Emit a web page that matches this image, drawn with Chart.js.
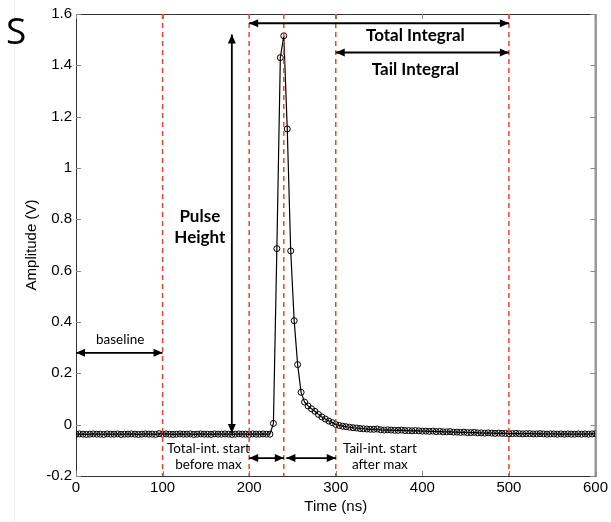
<!DOCTYPE html>
<html><head><meta charset="utf-8">
<script src="https://cdn.jsdelivr.net/npm/chart.js@4/dist/chart.umd.min.js"></script>
<style>html,body{margin:0;padding:0;background:#fff}#wrap{width:611px;height:522px;position:relative}</style>
</head><body><div id="wrap"><canvas id="c" width="611" height="522"></canvas></div>
<script>
const timeNs = [
0,4,8,12,16,20,24,28,32,36,40,44,48,52,56,60,64,68,72,76,80,84,88,92,96,100,
104,108,112,116,120,124,128,132,136,140,144,148,152,156,160,164,168,172,176,180,184,188,192,196,200,
204,208,212,216,220,224,228,232,236,240,244,248,252,256,260,264,268,272,276,280,284,288,292,296,300,
304,308,312,316,320,324,328,332,336,340,344,348,352,356,360,364,368,372,376,380,384,388,392,396,400,
404,408,412,416,420,424,428,432,436,440,444,448,452,456,460,464,468,472,476,480,484,488,492,496,500,
504,508,512,516,520,524,528,532,536,540,544,548,552,556,560,564,568,572,576,580,584,588,592,596,600];
const amplitudeV = [
-0.037,-0.036,-0.037,-0.038,-0.037,-0.036,-0.037,-0.037,-0.038,-0.036,
-0.037,-0.037,-0.036,-0.038,-0.037,-0.037,-0.036,-0.037,-0.038,-0.037,
-0.036,-0.037,-0.037,-0.038,-0.035,-0.037,-0.036,-0.037,-0.038,-0.037,
-0.036,-0.037,-0.037,-0.036,-0.038,-0.037,-0.036,-0.037,-0.037,-0.038,
-0.036,-0.037,-0.037,-0.036,-0.037,-0.038,-0.037,-0.036,-0.037,-0.037,
-0.038,-0.036,-0.037,-0.037,-0.036,-0.037,-0.037,
0.005,0.686,1.43,1.515,1.152,0.677,0.405,0.234,0.126,0.088,0.073,0.062,0.052,0.040,0.030,0.022,0.014,0.008,0.001,
-0.003,-0.006,-0.008,-0.010,-0.012,-0.013,-0.015,-0.016,-0.017,-0.018,-0.018,-0.017,-0.020,-0.021,-0.020,-0.021,-0.022,-0.022,-0.021,-0.023,-0.023,-0.024,-0.023,-0.024,-0.025,
-0.025,-0.026,-0.025,-0.027,-0.026,-0.028,-0.028,-0.027,-0.029,-0.029,-0.030,-0.029,-0.031,-0.031,-0.030,-0.032,-0.032,-0.033,-0.032,-0.033,-0.034,-0.033,-0.034,-0.034,-0.035,
-0.035,-0.034,-0.035,-0.036,-0.035,-0.035,-0.036,-0.036,-0.035,-0.036,-0.037,-0.036,-0.036,-0.037,-0.036,-0.037,-0.036,-0.037,-0.037,-0.036,-0.037,-0.036,-0.037,-0.036,-0.035];
const xTickValues = [0,100,200,300,400,500,600];
const yTickValues = [-0.2,0,0.2,0.4,0.6,0.8,1,1.2,1.4,1.6];
const markerTimes = [100,200,240,300,500];

const RED = '#ff3c28';
const annoFont = '"Lato","Open Sans",sans-serif';

function arrow(ctx, x1, y1, x2, y2) {
  const L = 9, W = 4;
  const ang = Math.atan2(y2 - y1, x2 - x1);
  ctx.beginPath(); ctx.moveTo(x1, y1); ctx.lineTo(x2, y2); ctx.stroke();
  [[x2, y2, ang], [x1, y1, ang + Math.PI]].forEach(([x, y, a]) => {
    ctx.beginPath();
    ctx.moveTo(x, y);
    ctx.lineTo(x - L * Math.cos(a) - W * Math.sin(a), y - L * Math.sin(a) + W * Math.cos(a));
    ctx.lineTo(x - L * Math.cos(a) + W * Math.sin(a), y - L * Math.sin(a) - W * Math.cos(a));
    ctx.closePath(); ctx.fill();
  });
}

const framePlugin = {
  id: 'frame',
  beforeDatasetsDraw(chart) {
    const {ctx, chartArea: a, scales: {x, y}} = chart;
    ctx.save();
    ctx.strokeStyle = '#f0f0f0'; ctx.lineWidth = 1;
    ctx.beginPath(); ctx.moveTo(14.5, 0); ctx.lineTo(14.5, 522); ctx.stroke();
    ctx.strokeStyle = '#333'; ctx.lineWidth = 1;
    ctx.strokeRect(a.left + 0.5, a.top + 0.5, a.right - a.left, a.bottom - a.top);
    ctx.strokeStyle = '#999'; ctx.lineWidth = 2;
    ctx.beginPath(); ctx.moveTo(a.right, a.top); ctx.lineTo(a.right, a.bottom); ctx.stroke();
    ctx.strokeStyle = '#888'; ctx.lineWidth = 1;
    xTickValues.forEach(v => {
      const px = Math.round(x.getPixelForValue(v)) + 0.5;
      ctx.beginPath(); ctx.moveTo(px, a.bottom); ctx.lineTo(px, a.bottom - 5);
      ctx.moveTo(px, a.top); ctx.lineTo(px, a.top + 5); ctx.stroke();
    });
    yTickValues.forEach(v => {
      const py = Math.round(y.getPixelForValue(v)) + 0.5;
      ctx.beginPath(); ctx.moveTo(a.left, py); ctx.lineTo(a.left + 5, py);
      ctx.moveTo(a.right, py); ctx.lineTo(a.right - 5, py); ctx.stroke();
    });
    ctx.restore();
  },
  afterDatasetsDraw(chart) {
    const {ctx, chartArea: a, scales: {x, y}} = chart;
    ctx.save();
    ctx.strokeStyle = RED; ctx.lineWidth = 1.5; ctx.setLineDash([5, 4]);
    markerTimes.forEach(t => {
      const px = x.getPixelForValue(t);
      ctx.beginPath(); ctx.moveTo(px, a.top); ctx.lineTo(px, a.bottom); ctx.stroke();
    });
    ctx.setLineDash([]);
    ctx.strokeStyle = '#000'; ctx.fillStyle = '#000'; ctx.lineWidth = 1.8;
    const X = v => x.getPixelForValue(v), Y = v => y.getPixelForValue(v);
    arrow(ctx, X(200), Y(1.564), X(500), Y(1.564));
    arrow(ctx, X(300), Y(1.45), X(500), Y(1.45));
    arrow(ctx, X(180), Y(1.52), X(180), Y(-0.032));
    arrow(ctx, X(0), Y(0.28), X(100), Y(0.28));
    arrow(ctx, X(200), Y(-0.13), X(240), Y(-0.13));
    arrow(ctx, X(243), Y(-0.13), X(300), Y(-0.13));
    ctx.textAlign = 'center'; ctx.textBaseline = 'middle';
    ctx.font = 'bold 17px ' + annoFont;
    ctx.fillText('Total Integral', X(392), Y(1.517));
    ctx.fillText('Tail Integral', X(392), Y(1.383));
    ctx.fillText('Pulse', X(143), Y(0.81));
    ctx.fillText('Height', X(143), Y(0.73));
    ctx.font = '13.5px ' + annoFont;
    ctx.fillText('baseline', X(51), Y(0.33));
    ctx.fillText('Total-int. start', X(153), Y(-0.095));
    ctx.fillText('before max', X(153), Y(-0.155));
    ctx.fillText('Tail-int. start', X(351), Y(-0.095));
    ctx.fillText('after max', X(351), Y(-0.155));
    ctx.font = '37px "Open Sans", sans-serif';
    ctx.textAlign = 'left'; ctx.textBaseline = 'alphabetic';
    ctx.fillText('S', 6, 44);
    ctx.restore();
  }
};

const tickFont = {family: '"Liberation Sans", Arial, sans-serif', size: 15};
new Chart(document.getElementById('c'), {
  type: 'scatter',
  data: {
    datasets: [{
      data: timeNs.map((t, i) => ({x: t, y: amplitudeV[i]})),
      showLine: true,
      borderColor: '#000', borderWidth: 1.2,
      pointRadius: 3, pointBorderWidth: 1,
      pointBorderColor: '#000', pointBackgroundColor: 'rgba(0,0,0,0)',
      tension: 0
    }]
  },
  options: {
    responsive: false, animation: false,
    layout: {padding: {top: 14, right: 14, left: 0, bottom: 0}},
    plugins: {legend: {display: false}, tooltip: {enabled: false}},
    scales: {
      x: {
        type: 'linear', min: 0, max: 600,
        afterBuildTicks: s => { s.ticks = xTickValues.map(v => ({value: v})); },
        afterFit: s => { s.height = 46; },
        grid: {display: false, drawTicks: false},
        border: {display: false},
        ticks: {font: tickFont, color: '#000', padding: 3, maxRotation: 0},
        title: {display: true, text: 'Time (ns)', font: tickFont, color: '#000', padding: {top: 0, bottom: 6}}
      },
      y: {
        type: 'linear', min: -0.2, max: 1.6,
        afterBuildTicks: s => { s.ticks = yTickValues.map(v => ({value: v})); },
        afterFit: s => { s.width = 76; },
        grid: {display: false, drawTicks: false},
        border: {display: false},
        ticks: {font: tickFont, color: '#000', padding: 4,
          callback: v => String(Number(v.toFixed(1)))},
        title: {display: true, text: 'Amplitude (V)', font: {family: '"Liberation Sans", Arial, sans-serif', size: 15}, color: '#000', padding: {top: 23, bottom: 0}}
      }
    }
  },
  plugins: [framePlugin]
});
</script></body></html>
